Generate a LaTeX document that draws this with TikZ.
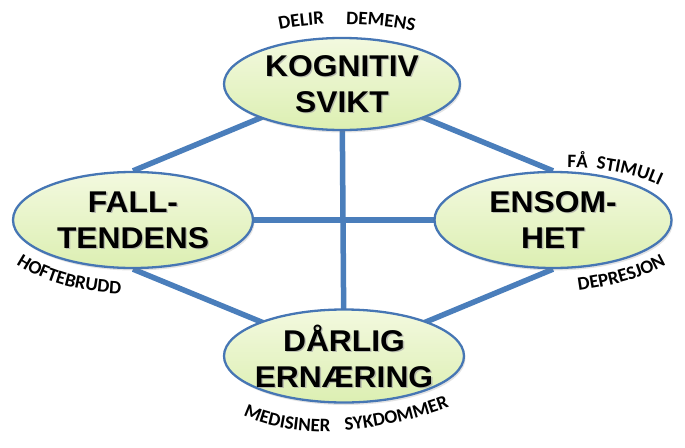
\documentclass[tikz,border=0pt]{standalone}
\usepackage{fontspec}
\setmainfont{Liberation Sans}
\newfontfamily\bigfont[FakeStretch=1.06]{Liberation Sans}
\newfontfamily\lblfont{Carlito}
\usetikzlibrary{shapes.geometric,backgrounds,decorations.text,shadows}
\definecolor{lineblue}{HTML}{4A7EBB}
\definecolor{edgeblue}{HTML}{4676B4}
\definecolor{fillA}{HTML}{F3F9DF}
\definecolor{fillB}{HTML}{DCEFB2}
\tikzset{
  bubble/.style={ellipse, draw=edgeblue, line width=2.3pt, top color=fillA, bottom color=fillB,
    inner sep=0pt, drop shadow={opacity=0.22, shadow xshift=1.5pt, shadow yshift=-2.5pt}},
  bigtext/.style={align=center, inner sep=0pt, font=\bigfont\bfseries\fontsize{30}{36}\selectfont},
  shadetext/.style={bigtext, text=black!35, opacity=0.7},
  link/.style={draw=lineblue, line width=5.5pt},
  curvelabel/.style={decorate, decoration={text along path, text align=center,
    text={|\lblfont\bfseries\fontsize{19}{21}\selectfont|#1}}},
}
\begin{document}
\begin{tikzpicture}[x=1pt,y=1pt]
\useasboundingbox (0,0) rectangle (685,-447);
% bubbles
\node[bubble, minimum width=236pt, minimum height=92pt] (K) at (342,-84) {};
\node[bubble, minimum width=240pt, minimum height=96pt] (F) at (133,-220) {};
\node[bubble, minimum width=237pt, minimum height=96pt] (E) at (553,-220) {};
\node[bubble, minimum width=240pt, minimum height=93pt] (D) at (344,-356) {};
% connectors
\begin{scope}[on background layer]
\draw[link] (K.center) -- (F.north);
\draw[link] (K.center) -- (E.north);
\draw[link] (D.center) -- (F.south);
\draw[link] (D.center) -- (E.south);
\draw[link] (K.center) -- (D.center);
\draw[link] (F.center) -- (E.center);
\end{scope}
% texts
\node[shadetext] (Ks) at ([shift={(1.3,-1.5)}]K.center) {KOGNITIV\\SVIKT};
\node[bigtext] (Kt) at (K.center) {KOGNITIV\\SVIKT};
\node[shadetext] (Fs) at ([shift={(1.3,-1.5)}]F.center) {FALL-\\TENDENS};
\node[bigtext] (Ft) at (F.center) {FALL-\\TENDENS};
\node[shadetext] (Es) at ([shift={(1.3,-1.5)}]E.center) {ENSOM-\\HET};
\node[bigtext] (Et) at (E.center) {ENSOM-\\HET};
\node[shadetext] (Ds) at ([shift={(1.3,-1.5)}]D.center) {DÅRLIG\\ERNÆRING};
\node[bigtext] (Dt) at (D.center) {DÅRLIG\\ERNÆRING};
% curved labels
\path[curvelabel={DELIR}] (272,-31.5) .. controls (290,-27) and (310,-24.5) .. (332,-24);
\path[curvelabel={DEMENS}] (338,-24) .. controls (362,-24) and (395,-26) .. (422,-33.5);
\path[curvelabel={FÅ{ }{ }STIMULI}] (560,-167.5) .. controls (595,-166) and (640,-174) .. (666,-189);
\path[curvelabel={HOFTEBRUDD}] (12,-261) .. controls (44,-284) and (87,-293) .. (126,-294);
\path[curvelabel={DEPRESJON}] (572,-291.5) .. controls (605,-287) and (640,-281) .. (672,-261);
\path[curvelabel={MEDISINER}] (240,-414) .. controls (265,-427) and (295,-432) .. (334,-432);
\path[curvelabel={SYKDOMMER}] (340,-431) .. controls (380,-428) and (422,-418) .. (454,-405);
\end{tikzpicture}
\end{document}
